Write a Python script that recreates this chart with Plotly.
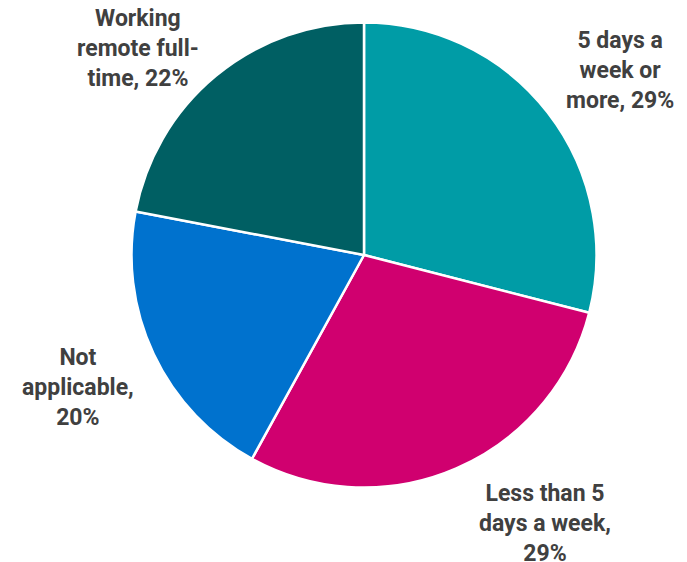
import plotly.graph_objects as go

# figure is placed 8px inside the page (default body margin)
OFF = 8
W, H = 687 - OFF, 562 - OFF

labels = ["5 days a week or more", "Less than 5 days a week", "Not applicable", "Working remote full-time"]
values = [29, 29, 20, 22]
label_text = ["5 days a<br>week or<br>more, 29%",
              "Less than 5<br>days a week,<br>29%",
              "Not<br>applicable,<br>20%",
              "Working<br>remote full-<br>time, 22%"]
colors = ["#009CA6", "#D0006F", "#0072CE", "#005F63"]

# label centres in page pixels (layout only)
label_pos = [(620, 70), (545, 523), (77.5, 387), (138, 49)]

cx, cy, r = 364 - OFF, 255 - OFF, 232.5

fig = go.Figure(go.Pie(
    labels=labels,
    values=values,
    sort=False,
    direction="clockwise",
    rotation=0,
    marker=dict(colors=colors, line=dict(color="white", width=2.5)),
    textinfo="none",
    hoverinfo="label+percent",
    domain=dict(x=[(cx - r) / W, (cx + r) / W],
                y=[1 - (cy + r) / H, 1 - (cy - r) / H]),
    showlegend=False,
))

for txt, (px, py) in zip(label_text, label_pos):
    fig.add_annotation(
        x=(px - OFF) / W, y=1 - (py - OFF) / H, xref="paper", yref="paper",
        text=txt, showarrow=False, align="center",
        xanchor="center", yanchor="middle",
        font=dict(family="Roboto", size=23, color="#404040", weight="bold"),
    )

fig.update_layout(
    width=W, height=H,
    margin=dict(l=0, r=0, t=0, b=0),
    paper_bgcolor="white",
    plot_bgcolor="white",
)

fig.write_html("out.html")
